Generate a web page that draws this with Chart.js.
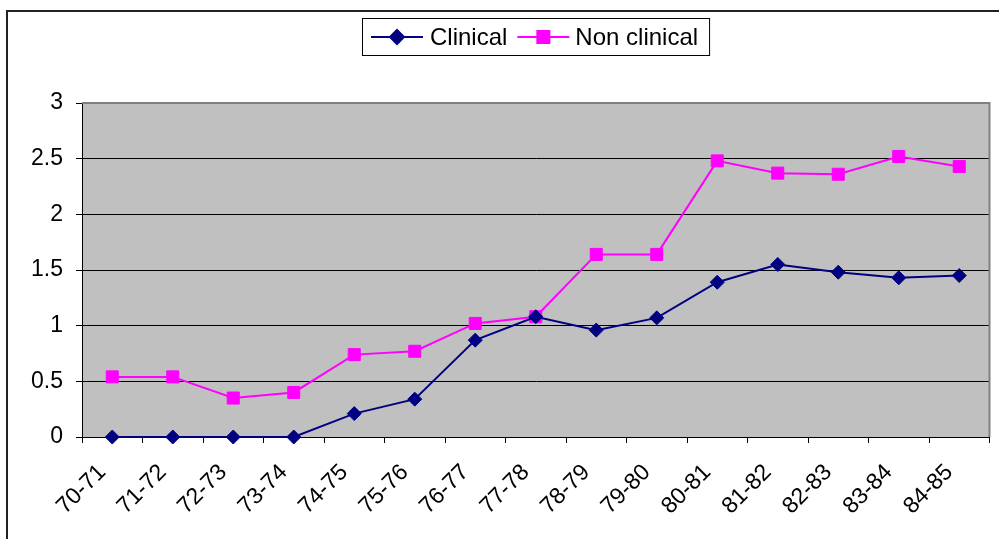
<!DOCTYPE html>
<html>
<head>
<meta charset="utf-8">
<script src="https://cdn.jsdelivr.net/npm/chart.js@4/dist/chart.umd.min.js"></script>
<style>
  html, body { margin: 0; padding: 0; background: #fff; }
  #wrap { width: 999px; height: 539px; position: relative; }
</style>
</head>
<body>
<div id="wrap"><canvas id="c" width="999" height="539"></canvas></div>
<script>
const categories = ["70-71","71-72","72-73","73-74","74-75","75-76","76-77","77-78","78-79","79-80","80-81","81-82","82-83","83-84","84-85"];
const clinical = [0, 0, 0, 0, 0.21, 0.34, 0.87, 1.08, 0.96, 1.07, 1.39, 1.55, 1.48, 1.43, 1.45];
const nonClinical = [0.54, 0.54, 0.35, 0.40, 0.74, 0.77, 1.02, 1.08, 1.64, 1.64, 2.48, 2.37, 2.36, 2.52, 2.43];
const seriesNames = ["Clinical", "Non clinical"];
const yTicks = [0, 0.5, 1, 1.5, 2, 2.5, 3];

const FONT = "'Liberation Sans', Arial, sans-serif";

const framePlugin = {
  id: 'frame',
  beforeDraw(chart) {
    const { ctx, chartArea: a } = chart;
    ctx.save();
    ctx.fillStyle = '#fff';
    ctx.fillRect(0, 0, chart.width, chart.height);
    ctx.fillStyle = '#C0C0C0';
    ctx.fillRect(a.left, a.top, a.right - a.left, a.bottom - a.top);
    ctx.strokeStyle = '#222';
    ctx.lineWidth = 2;
    ctx.strokeRect(7, 11, 1100, 700);
    ctx.restore();
  },
  beforeDatasetsDraw(chart) {
    const { ctx, chartArea: a } = chart;
    ctx.save();
    ctx.strokeStyle = '#808080';
    ctx.lineWidth = 2;
    ctx.beginPath();
    ctx.moveTo(a.left, a.top);
    ctx.lineTo(a.right, a.top);
    ctx.lineTo(a.right, a.bottom);
    ctx.stroke();
    ctx.restore();
  },
  afterDraw(chart) {
    const { ctx, chartArea: a } = chart;
    const ds = chart.data.datasets;
    ctx.save();
    ctx.font = "24px " + FONT;
    ctx.textBaseline = 'middle';
    const lineW = 52;
    const w1 = ctx.measureText(ds[0].label).width;
    const w2 = ctx.measureText(ds[1].label).width;
    const total = 9 + lineW + 7 + w1 + 10 + lineW + 6 + w2 + 11;
    const bx = Math.round((a.left + a.right) / 2 - total / 2);
    const by = 18, bh = 37;
    ctx.fillStyle = '#fff';
    ctx.fillRect(bx, by, total, bh);
    ctx.strokeStyle = '#000';
    ctx.lineWidth = 1;
    ctx.strokeRect(bx + 0.5, by + 0.5, total, bh);
    const cy = by + bh / 2 + 0.5;
    let x = bx + 9;
    const items = [[ds[0], w1, 7], [ds[1], w2, 6]];
    items.forEach(([d, w, gap]) => {
      ctx.strokeStyle = d.borderColor;
      ctx.lineWidth = 2;
      ctx.beginPath();
      ctx.moveTo(x, cy);
      ctx.lineTo(x + lineW, cy);
      ctx.stroke();
      Chart.helpers.drawPoint(ctx, { pointStyle: d.pointStyle, radius: d.pointRadius, borderWidth: 1 }, x + lineW / 2, cy);
      ctx.fillStyle = d.pointBackgroundColor;
      ctx.strokeStyle = d.pointBorderColor;
      ctx.fill();
      x += lineW + gap;
      ctx.fillStyle = '#000';
      ctx.textAlign = 'left';
      ctx.fillText(d.label, x, cy + 1);
      x += w + 10;
    });
    ctx.restore();
  }
};

new Chart(document.getElementById('c'), {
  type: 'line',
  data: {
    labels: categories,
    datasets: [
      {
        label: seriesNames[0],
        data: clinical,
        borderColor: '#000080',
        backgroundColor: '#000080',
        pointBackgroundColor: '#000080',
        pointBorderColor: '#000080',
        borderWidth: 2,
        pointStyle: 'rectRot',
        pointRadius: 7,
        pointBorderWidth: 1,
        tension: 0,
        clip: false
      },
      {
        label: seriesNames[1],
        data: nonClinical,
        borderColor: '#FF00FF',
        backgroundColor: '#FF00FF',
        pointBackgroundColor: '#FF00FF',
        pointBorderColor: '#FF00FF',
        borderWidth: 2,
        pointStyle: 'rect',
        pointRadius: 8.5,
        pointBorderWidth: 1,
        tension: 0,
        clip: false
      }
    ]
  },
  options: {
    responsive: false,
    animation: false,
    devicePixelRatio: 1,
    layout: { padding: { top: 103, right: 2, left: 0, bottom: 0 } },
    plugins: { legend: { display: false }, tooltip: { enabled: false } },
    scales: {
      x: {
        type: 'category',
        offset: true,
        afterFit(s) { s.height = 102; },
        grid: { offset: true, drawOnChartArea: false, drawTicks: true, tickLength: 6, tickColor: '#000', color: '#000' },
        border: { display: true, color: '#000', width: 1 },
        ticks: { color: '#000', font: { family: FONT, size: 23 }, minRotation: 45, maxRotation: 45, autoSkip: false, padding: 16, labelOffset: -10 }
      },
      y: {
        min: 0,
        max: 3,
        afterFit(s) { s.width = 82; },
        afterBuildTicks(s) { s.ticks = yTicks.map(v => ({ value: v })); },
        grid: {
          color: ctx => (ctx.tick && ctx.tick.value === 3) ? 'rgba(0,0,0,0)' : '#000',
          tickColor: '#000', tickLength: 6, lineWidth: 1
        },
        border: { display: true, color: '#000', width: 1 },
        ticks: { color: '#000', font: { family: FONT, size: 23 }, padding: 13, callback: v => String(v) }
      }
    }
  },
  plugins: [framePlugin]
});
</script>
</body>
</html>
